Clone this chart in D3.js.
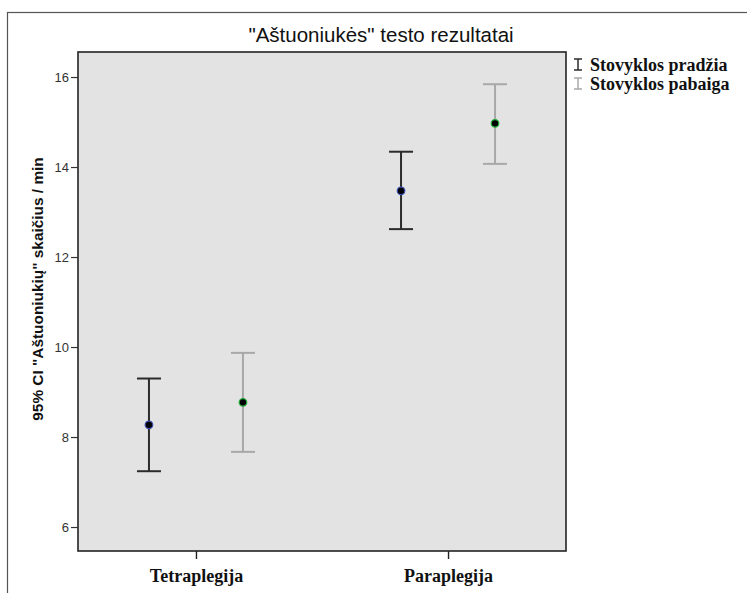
<!DOCTYPE html>
<html>
<head>
<meta charset="utf-8">
<script src="https://cdn.jsdelivr.net/npm/d3@7"></script>
<style>
  body { margin: 0; background: #fff; }
  svg { display: block; }
</style>
</head>
<body>
<div class="svg-chart"></div>
<script>
// chart data
const categories = ["Tetraplegija", "Paraplegija"];
const seriesNames = ["Stovyklos pradžia", "Stovyklos pabaiga"];
const startMean = [8.27, 13.47];
const startLower = [7.24, 12.62];
const startUpper = [9.30, 14.34];
const endMean = [8.77, 14.97];
const endLower = [7.67, 14.07];
const endUpper = [9.87, 15.84];
const yTicks = [6, 8, 10, 12, 14, 16];

const width = 747, height = 593;
const margin = { top: 52, right: 181, bottom: 42, left: 78 };

const svg = d3.select('.svg-chart').append('svg')
    .attr('width', width)
    .attr('height', height);

// outer frame (runs off the right and bottom edge)
svg.append('rect')
    .attr('x', 7.5).attr('y', 12.5)
    .attr('width', 745).attr('height', 600)
    .attr('fill', 'none')
    .attr('stroke', '#555')
    .attr('stroke-width', 1.2);

let x = d3.scalePoint()
    .domain(categories)
    .range([margin.left, width - margin.right])
    .padding(0.468);

let xInner = d3.scalePoint()
    .domain(seriesNames)
    .range([-47, 47]);

let y = d3.scaleLinear()
    .domain([5.467, 16.556])
    .range([height - margin.bottom, margin.top]);

// plot background
svg.append('rect')
    .attr('x', margin.left)
    .attr('y', margin.top)
    .attr('width', width - margin.right - margin.left)
    .attr('height', height - margin.bottom - margin.top)
    .attr('fill', '#e3e3e3')
    .attr('stroke', '#222')
    .attr('stroke-width', 1.6);

// y axis
const yAxis = svg.append('g')
    .attr('transform', 'translate(' + margin.left + ',0)')
    .call(d3.axisLeft(y).tickValues(yTicks).tickSize(7).tickPadding(2).tickFormat(d3.format('d')));
yAxis.select('.domain').remove();
yAxis.selectAll('line').attr('stroke', '#333').attr('stroke-width', 1.2);
yAxis.selectAll('text')
    .attr('fill', '#333')
    .style('font-family', 'Liberation Sans, Arial, sans-serif')
    .style('font-size', '13px');

// x axis
const xAxis = svg.append('g')
    .attr('transform', 'translate(0,' + (height - margin.bottom) + ')')
    .call(d3.axisBottom(x).tickSize(8).tickPadding(10));
xAxis.select('.domain').remove();
xAxis.selectAll('line').attr('stroke', '#222').attr('stroke-width', 1.4);
xAxis.selectAll('text')
    .attr('fill', '#111')
    .style('font-family', 'Liberation Serif, Times New Roman, serif')
    .style('font-weight', 'bold')
    .style('font-size', '18px');

// title
svg.append('text')
    .attr('x', 381)
    .attr('y', 42)
    .attr('text-anchor', 'middle')
    .style('font-family', 'Liberation Sans, Arial, sans-serif')
    .style('font-size', '20.5px')
    .attr('fill', '#111')
    .text('"Aštuoniukės" testo rezultatai');

// y label
svg.append('text')
    .attr('transform', 'translate(43,289) rotate(-90)')
    .attr('text-anchor', 'middle')
    .style('font-family', 'Liberation Sans, Arial, sans-serif')
    .style('font-size', '15.4px')
    .style('font-weight', 'bold')
    .attr('fill', '#111')
    .text('95% CI "Aštuoniukių" skaičius / min');

const series = [
    { name: seriesNames[0], mean: startMean, lower: startLower, upper: startUpper, color: '#2b2b2b', ring: '#3b4fb0' },
    { name: seriesNames[1], mean: endMean, lower: endLower, upper: endUpper, color: '#a8a8a8', ring: '#25b13a' }
];

const capHalf = 12;

series.forEach(s => {
    const pts = categories.map((c, i) => ({
        cx: x(c) + xInner(s.name),
        mean: s.mean[i], lower: s.lower[i], upper: s.upper[i]
    }));

    const g = svg.append('g');

    g.selectAll('.bar').data(pts).enter().append('line')
        .attr('x1', d => d.cx).attr('x2', d => d.cx)
        .attr('y1', d => y(d.lower)).attr('y2', d => y(d.upper))
        .attr('stroke', s.color).attr('stroke-width', 2);

    ['lower', 'upper'].forEach(k => {
        g.selectAll('.cap-' + k).data(pts).enter().append('line')
            .attr('x1', d => d.cx - capHalf).attr('x2', d => d.cx + capHalf)
            .attr('y1', d => y(d[k])).attr('y2', d => y(d[k]))
            .attr('stroke', s.color).attr('stroke-width', 2);
    });

    g.selectAll('.dot').data(pts).enter().append('circle')
        .attr('cx', d => d.cx)
        .attr('cy', d => y(d.mean))
        .attr('r', 3.8)
        .attr('fill', '#000')
        .attr('stroke', s.ring)
        .attr('stroke-width', 1.2);
});

// legend
const legend = svg.append('g').attr('transform', 'translate(578,71)');
series.forEach((s, i) => {
    const lg = legend.append('g').attr('transform', 'translate(0,' + (i * 19) + ')');
    lg.append('line').attr('x1', 0).attr('x2', 0).attr('y1', -12).attr('y2', -1)
        .attr('stroke', s.color).attr('stroke-width', 1.5);
    lg.append('line').attr('x1', -4).attr('x2', 4).attr('y1', -12).attr('y2', -12)
        .attr('stroke', s.color).attr('stroke-width', 1.5);
    lg.append('line').attr('x1', -4).attr('x2', 4).attr('y1', -1).attr('y2', -1)
        .attr('stroke', s.color).attr('stroke-width', 1.5);
    lg.append('text')
        .attr('x', 12).attr('y', 0)
        .style('font-family', 'Liberation Serif, Times New Roman, serif')
        .style('font-weight', 'bold')
        .style('font-size', '18px')
        .attr('fill', '#111')
        .text(s.name);
});
</script>
</body>
</html>
